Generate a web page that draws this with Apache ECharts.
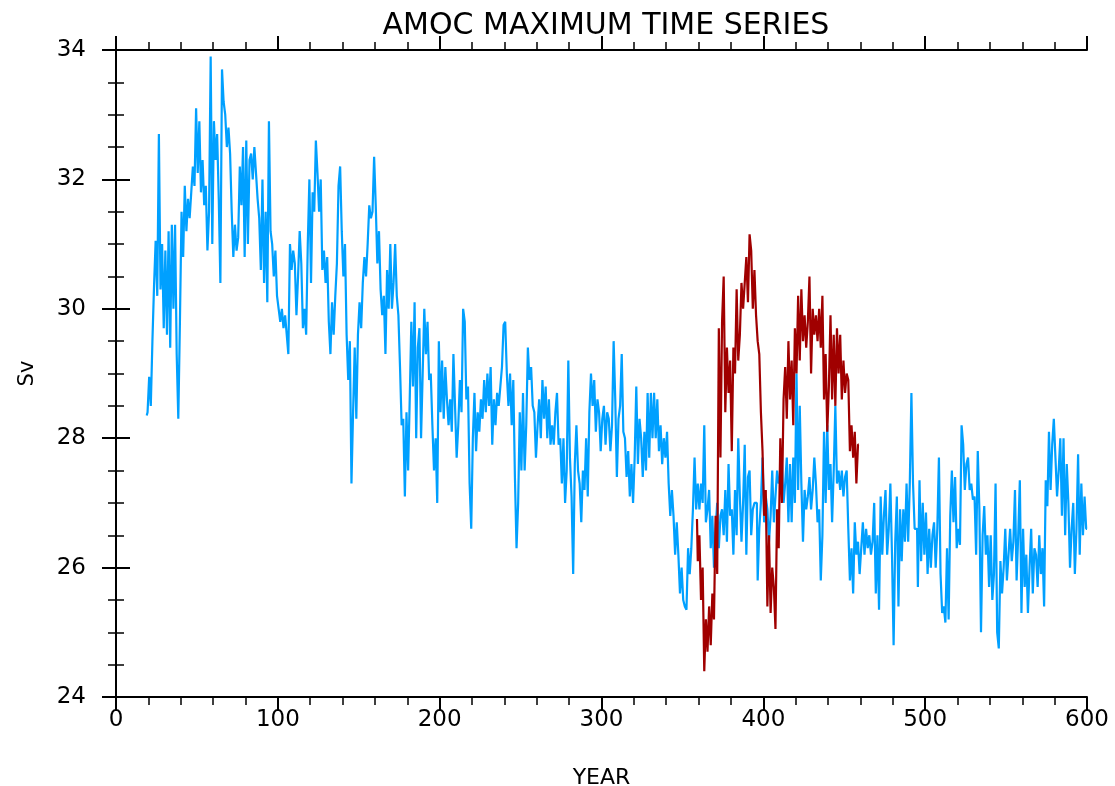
<!DOCTYPE html>
<html>
<head>
<meta charset="utf-8">
<script src="https://cdn.jsdelivr.net/npm/echarts@6/dist/echarts.min.js"></script>
<style>
  html, body { margin: 0; padding: 0; background: #fff; }
  #chart { width: 1115px; height: 786px; }
</style>
</head>
<body>
<div id="chart"></div>
<script>
// annual AMOC maximum (Sv), control run, years 19..600
const blueStart = 19;
const blueValues = [
  28.35, 28.4, 28.95, 28.5, 29.5, 30.35, 31.05, 30.2, 32.7, 30.3, 31.0,
  29.7, 30.9, 29.6, 31.2, 29.4, 31.3, 30.0, 31.3, 29.3, 28.3,
  29.8, 31.5, 30.8, 31.9, 31.2, 31.7, 31.4, 31.8, 32.2, 31.9,
  33.1, 32.1, 32.9, 31.8, 32.3, 31.6, 31.9, 30.9, 31.5, 33.9,
  31.0, 32.9, 32.3, 32.7, 31.7, 30.4, 33.7, 33.2, 33.0, 32.5,
  32.8, 32.4, 31.5, 30.8, 31.3, 30.9, 31.1, 32.2, 31.6, 32.5,
  30.8, 32.6, 31.0, 32.3, 32.4, 32.0, 32.5, 32.1, 31.7, 31.4,
  30.6, 32.0, 30.4, 31.5, 30.1, 32.9, 31.2, 31.0, 30.5, 30.9,
  30.2, 30.0, 29.8, 30.0, 29.7, 29.9, 29.6, 29.3, 31.0, 30.6,
  30.9, 30.7, 29.9, 30.5, 31.2, 30.7, 29.7, 30.0, 29.6, 31.0,
  32.0, 30.4, 31.8, 31.5, 32.6, 32.1, 31.5, 32.0, 30.6, 30.9,
  30.4, 30.8, 29.8, 29.3, 30.1, 29.6, 30.2, 30.7, 31.9, 32.2,
  31.2, 30.5, 31.0, 29.6, 28.9, 29.5, 27.3, 28.4, 29.4, 28.3,
  29.6, 30.1, 29.7, 30.4, 30.8, 30.5, 31.0, 31.6, 31.4, 31.5,
  32.35, 31.6, 30.7, 31.2, 30.3, 29.9, 30.2, 29.3, 30.6, 30.0,
  31.0, 30.0, 30.4, 31.0, 30.2, 29.9, 29.1, 28.2, 28.3, 27.1,
  28.4, 27.5, 28.6, 29.8, 28.8, 30.1, 28.0, 29.4, 29.7, 28.0,
  29.0, 30.0, 29.3, 29.8, 28.9, 29.0, 28.2, 27.5, 28.0, 27.0,
  29.5, 28.4, 29.2, 28.3, 29.1, 28.6, 28.2, 28.6, 28.1, 29.3,
  28.5, 27.7, 28.2, 28.9, 28.4, 30.0, 29.8, 28.6, 28.8, 27.3,
  26.6, 28.0, 28.7, 27.8, 28.4, 28.1, 28.6, 28.3, 28.9, 28.4,
  29.0, 28.5, 29.1, 27.9, 28.6, 28.2, 28.7, 28.5, 28.8, 29.1,
  29.75, 29.8, 29.0, 28.5, 29.0, 28.2, 28.9, 27.4, 26.3, 27.0,
  28.4, 27.5, 28.7, 27.5, 28.2, 29.4, 28.9, 29.1, 28.5, 28.4,
  27.7, 28.2, 28.6, 28.0, 28.9, 28.3, 28.8, 28.0, 28.6, 27.9,
  28.2, 27.9, 28.4, 28.7, 27.9, 28.0, 27.3, 28.0, 27.0, 27.5,
  29.2, 27.7, 27.1, 25.9, 27.6, 28.2, 27.5, 27.3, 26.7, 27.5,
  27.2, 28.0, 27.1, 28.4, 29.0, 28.5, 28.9, 28.1, 28.6, 28.4,
  27.8, 28.3, 28.5, 27.9, 28.4, 28.3, 27.8, 28.2, 29.5, 28.6,
  27.4, 28.3, 28.5, 29.3, 28.1, 28.0, 27.4, 27.8, 27.1, 27.6,
  27.0, 27.7, 28.8, 27.6, 28.3, 28.0, 27.4, 28.1, 27.5, 28.7,
  27.7, 28.7, 28.0, 28.7, 28.0, 28.6, 27.8, 28.2, 27.6, 28.0,
  27.7, 28.1, 27.3, 26.8, 27.2, 26.8, 26.2, 26.7, 26.2, 25.6,
  26.0, 25.5, 25.4, 25.35, 26.3, 25.9, 26.3, 26.9, 27.7, 26.9,
  27.3, 26.9, 27.3, 27.0, 28.2, 26.7, 26.9, 27.2, 26.3, 26.8,
  26.0, 26.6, 27.0, 26.3, 26.8, 26.9, 26.5, 27.2, 26.4, 27.6,
  26.8, 26.9, 26.2, 27.2, 26.5, 28.0, 27.1, 26.4, 27.0, 27.9,
  26.2, 27.4, 27.5, 26.5, 26.9, 27.0, 27.0, 25.8, 26.6, 27.0,
  27.7, 26.7, 27.1, 26.9, 26.4, 26.8, 27.5, 26.7, 27.1, 27.5,
  27.3, 27.4, 27.6, 27.0, 27.3, 27.7, 26.7, 27.6, 26.7, 27.7,
  27.0, 29.0, 27.2, 28.5, 27.3, 26.4, 27.2, 26.9, 27.1, 27.4,
  26.9, 27.2, 27.7, 27.3, 26.7, 26.9, 25.8, 26.5, 28.1, 27.0,
  28.2, 27.2, 27.6, 26.7, 27.5, 28.5, 27.3, 27.5, 27.2, 27.5,
  27.1, 27.4, 27.5, 26.6, 25.8, 26.3, 25.6, 26.7, 26.2, 26.4,
  25.9, 26.3, 26.7, 26.2, 26.6, 26.3, 26.5, 26.2, 26.4, 27.0,
  25.6, 26.5, 25.35, 27.1, 26.2, 26.8, 27.2, 26.2, 26.6, 27.3,
  26.2, 24.8, 26.4, 27.1, 25.4, 26.9, 26.1, 26.9, 26.4, 27.3,
  26.4, 27.3, 28.7, 27.3, 26.6, 26.6, 25.7, 27.35, 26.1, 27.0,
  26.2, 26.85, 25.9, 26.6, 26.0, 26.5, 26.7, 26.0, 26.6, 27.7,
  25.9, 25.3, 25.4, 25.15, 26.3, 25.2, 26.8, 27.5, 26.7, 27.4,
  26.3, 26.6, 26.35, 28.2, 27.9, 27.2, 27.6, 27.7, 27.2, 27.3,
  27.05, 27.1, 26.2, 27.8, 26.9, 25.0, 26.5, 26.95, 26.2, 26.5,
  25.7, 26.5, 25.5, 25.9, 27.3, 25.0, 24.75, 26.1, 25.6, 26.0,
  26.6, 25.8, 26.2, 26.6, 26.1, 26.4, 27.2, 25.8, 26.5, 27.35,
  25.3, 26.6, 25.7, 26.2, 25.3, 26.0, 26.6, 25.6, 26.3, 26.2,
  25.7, 26.5, 25.9, 26.3, 25.4, 27.35, 26.95, 28.1, 27.2, 27.9,
  28.3, 27.7, 27.1, 27.5, 28.0, 26.8, 28.0, 26.5, 27.6, 27.0,
  26.0, 26.6, 27.0, 25.9, 26.6, 27.75, 26.2, 27.3, 26.5, 27.1,
  26.6
];

// perturbed experiment, years 359..459
const redStart = 359;
const redValues = [
  26.75, 26.1, 26.5, 25.5, 26.0, 24.4, 25.2, 24.7, 25.4, 24.8, 25.6,
  25.2, 26.8, 25.9, 29.7, 27.7, 29.8, 30.5, 28.4, 29.4, 28.7,
  29.2, 27.8, 29.4, 29.0, 30.3, 29.2, 29.6, 30.4, 30.0, 30.4,
  30.8, 30.1, 31.15, 30.9, 30.0, 30.6, 29.9, 29.5, 29.3, 28.4,
  27.8, 26.8, 27.2, 25.4, 26.5, 25.3, 26.0, 25.7, 25.05, 26.9,
  26.3, 28.0, 27.0, 28.6, 29.1, 28.3, 29.5, 28.6, 29.2, 28.2,
  29.7, 29.0, 30.2, 29.2, 30.3, 29.5, 29.9, 29.4, 29.8, 30.5,
  29.0, 30.0, 29.6, 29.9, 29.5, 30.0, 29.4, 30.2, 28.6, 29.3,
  28.1, 28.8, 29.9, 28.6, 29.6, 28.5, 29.7, 29.0, 29.6, 28.6,
  29.2, 28.7, 29.0, 28.9, 27.8, 28.2, 27.7, 28.1, 27.3, 27.9
];

const xTicks = { min: 0, max: 600, interval: 100 };
const yTicks = { min: 24, max: 34, interval: 2 };

const toPairs = (start, vals) => vals.map((v, i) => [start + i, v]);

const chart = echarts.init(document.getElementById("chart"));

const font = "'DejaVu Sans', 'Liberation Sans', sans-serif";
const axisLine = { lineStyle: { color: "#000", width: 2 } };
const majorTick = { length: 14, lineStyle: { color: "#000", width: 2 } };
const minorTick = { show: true, length: 8, lineStyle: { color: "#000", width: 1.5 } };

const option = {
  animation: false,
  backgroundColor: "#fff",
  title: {
    text: "AMOC MAXIMUM TIME SERIES",
    left: 601,
    textAlign: "center",
    top: 6,
    textStyle: { fontFamily: font, fontWeight: "normal", fontSize: 30, color: "#000" },
  },
  grid: { left: 116, right: 28, top: 50, bottom: 89, outerBoundsMode: "none" },
  xAxis: [
    {
      type: "value",
      min: xTicks.min,
      max: xTicks.max,
      interval: xTicks.interval,
      name: "YEAR",
      nameLocation: "middle",
      nameGap: 70,
      nameTextStyle: { fontFamily: font, fontSize: 22, color: "#000" },
      axisLine,
      axisTick: majorTick,
      minorTick: { ...minorTick, splitNumber: 5 },
      axisLabel: { fontFamily: font, fontSize: 23, color: "#000", margin: 12 },
      splitLine: { show: false },
    },
    {
      type: "value",
      position: "top",
      min: xTicks.min,
      max: xTicks.max,
      interval: xTicks.interval,
      axisLine,
      axisTick: majorTick,
      minorTick: { ...minorTick, splitNumber: 5 },
      axisLabel: { show: false },
      splitLine: { show: false },
    },
  ],
  yAxis: [
    {
      type: "value",
      min: yTicks.min,
      max: yTicks.max,
      interval: yTicks.interval,
      name: "Sv",
      nameLocation: "middle",
      nameGap: 78,
      nameTextStyle: { fontFamily: font, fontSize: 21, color: "#000" },
      axisLine,
      axisTick: majorTick,
      minorTick: { ...minorTick, splitNumber: 4 },
      axisLabel: { fontFamily: font, fontSize: 23, color: "#000", margin: 30 },
      splitLine: { show: false },
    },
    {
      type: "value",
      position: "right",
      min: yTicks.min,
      max: yTicks.max,
      interval: yTicks.interval,
      axisLine,
      axisTick: majorTick,
      minorTick: { ...minorTick, splitNumber: 4 },
      axisLabel: { show: false },
      splitLine: { show: false },
    },
  ],
  series: [
    {
      name: "control",
      type: "line",
      step: "middle",
      showSymbol: false,
      data: toPairs(blueStart, blueValues),
      lineStyle: { color: "#00a0ff", width: 2.2 },
      itemStyle: { color: "#00a0ff" },
    },
    {
      name: "experiment",
      type: "line",
      step: "middle",
      showSymbol: false,
      data: toPairs(redStart, redValues),
      lineStyle: { color: "#a00000", width: 2.2 },
      itemStyle: { color: "#a00000" },
    },
  ],
};

chart.setOption(option);
</script>
</body>
</html>
